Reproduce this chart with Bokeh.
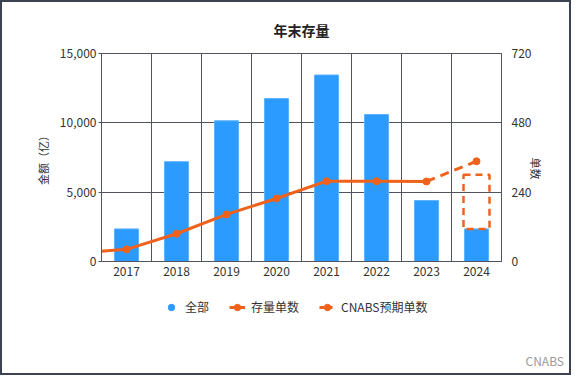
import math
from bokeh.plotting import figure
from bokeh.layouts import column
from bokeh.models import (Range1d, LinearAxis, FixedTicker, Legend, LegendItem,
                          Label, NumeralTickFormatter, Grid)
from bokeh.embed import file_html
from bokeh.resources import INLINE

# ---- data ----
years = [2017, 2018, 2019, 2020, 2021, 2022, 2023, 2024]
amounts = [2350, 7200, 10150, 11750, 13450, 10600, 4400, 2350]   # 全部 (亿)
count_years = [2016, 2017, 2018, 2019, 2020, 2021, 2022, 2023]
counts = [30, 42, 96, 163, 218, 278, 278, 277]                   # 存量单数
forecast_years = [2023, 2024]
forecast_counts = [277, 347]                                     # CNABS预期单数
box_year = [2024]
box_bottom = [2350]
box_top = [6250]
left_ticks = [0, 5000, 10000, 15000]
right_ticks = [0, 240, 480, 720]

FONT = "Noto Sans CJK SC"
BLUE = "#2b9bff"
ORANGE = "#f0621c"
GRID = "#50545f"
TXT = "#333333"

p = figure(width=567, height=290, output_backend="svg", toolbar_location=None,
           x_range=Range1d(2016.5, 2024.5), y_range=Range1d(0, 15000),
           min_border_left=99, min_border_right=68, min_border_top=51,
           min_border_bottom=31, x_axis_location=None, y_axis_location=None)
p.extra_y_ranges = {"cnt": Range1d(0, 720)}
p.outline_line_color = GRID
p.outline_line_width = 1

p.title.text = "年末存量"
p.title.align = "center"
p.title.text_font = FONT
p.title.text_font_size = "14px"
p.title.text_font_style = "bold"
p.title.text_color = "#222222"
p.title.standoff = 28

# axes
xa = LinearAxis(ticker=FixedTicker(ticks=years))
ya = LinearAxis(ticker=FixedTicker(ticks=left_ticks),
                formatter=NumeralTickFormatter(format="0,0"), axis_label="金额（亿）")
ra = LinearAxis(y_range_name="cnt", ticker=FixedTicker(ticks=right_ticks), axis_label="单数")
for ax in (xa, ya, ra):
    ax.axis_line_color = GRID
    ax.major_tick_line_color = GRID
    ax.minor_tick_line_color = None
    ax.major_tick_in = 0
    ax.major_label_text_font = FONT
    ax.major_label_text_font_size = "12px"
    ax.major_label_text_color = TXT
    ax.axis_label_text_font = FONT
    ax.axis_label_text_font_size = "11px"
    ax.axis_label_text_font_style = "normal"
    ax.axis_label_text_color = TXT
xa.major_tick_out = 0
xa.major_label_standoff = 5
ya.major_tick_out = 3
ya.major_label_standoff = 2
ya.axis_label_standoff = 6
ra.major_tick_out = 0
ra.major_label_standoff = 10
ra.axis_label_standoff = 2
ra.axis_label_orientation = -math.pi / 2
p.add_layout(xa, "below")
p.add_layout(ya, "left")
p.add_layout(ra, "right")

p.xgrid.visible = False
p.ygrid.visible = False
p.add_layout(Grid(dimension=0, ticker=FixedTicker(ticks=[y + 0.5 for y in years[:-1]]),
                  grid_line_color=GRID, grid_line_width=1))
p.add_layout(Grid(dimension=1, ticker=FixedTicker(ticks=left_ticks[1:-1]),
                  grid_line_color=GRID, grid_line_width=1))

# bars
p.vbar(x=years, top=amounts, width=0.48, fill_color=BLUE, line_color="#5fb4ff", line_width=1)
p.vbar(x=box_year, bottom=box_bottom, top=box_top, width=0.52, fill_color=None,
       line_color=ORANGE, line_width=2.5, line_dash="7 5")

# lines
p.line(count_years, counts, y_range_name="cnt", line_color=ORANGE, line_width=3)
p.scatter(count_years, counts, y_range_name="cnt", size=7, fill_color=ORANGE, line_color=ORANGE)
p.line(forecast_years, forecast_counts, y_range_name="cnt", line_color=ORANGE,
       line_width=3, line_dash="9 6")
p.scatter(forecast_years[1:], forecast_counts[1:], y_range_name="cnt", size=7,
          fill_color=ORANGE, line_color=ORANGE)

# ---- legend strip ----
q = figure(width=567, height=81, output_backend="svg", toolbar_location=None,
           x_range=Range1d(0, 1), y_range=Range1d(0, 1), min_border=0,
           min_border_left=0, min_border_right=0, min_border_top=0, min_border_bottom=0,
           x_axis_location=None, y_axis_location=None)
q.frame_align = False
q.outline_line_color = None
q.xgrid.visible = False
q.ygrid.visible = False
d1 = q.scatter(x=[-5], y=[-5], size=12, fill_color=BLUE, line_color=BLUE)
d2l = q.line(x=[-6, -5], y=[-5, -5], line_color=ORANGE, line_width=3)
d2s = q.scatter(x=[-5], y=[-5], size=7, fill_color=ORANGE, line_color=ORANGE)
d3l = q.line(x=[-6, -5], y=[-5, -5], line_color=ORANGE, line_width=3, line_dash="5 3")
d3s = q.scatter(x=[-5], y=[-5], size=7, fill_color=ORANGE, line_color=ORANGE)
legend = Legend(items=[LegendItem(label="全部", renderers=[d1]),
                       LegendItem(label="存量单数", renderers=[d2l, d2s]),
                       LegendItem(label="CNABS预期单数", renderers=[d3l, d3s])],
                orientation="horizontal", location=(161, 58),
                label_text_font=FONT, label_text_font_size="12px", label_text_color=TXT,
                glyph_width=16, glyph_height=16, label_standoff=6, spacing=20,
                border_line_color=None, background_fill_alpha=0, margin=0, padding=0)
q.add_layout(legend, "center")
q.add_layout(Label(x=523, y=5, x_units="screen", y_units="screen", text="CNABS",
                   text_font=FONT, text_font_size="12px", text_color="#9a9a9a"))

layout = column(p, q, spacing=0,
                styles={"border": "2px solid #3c4252", "background-color": "white"})
open("out.html", "w").write(file_html(layout, INLINE))
